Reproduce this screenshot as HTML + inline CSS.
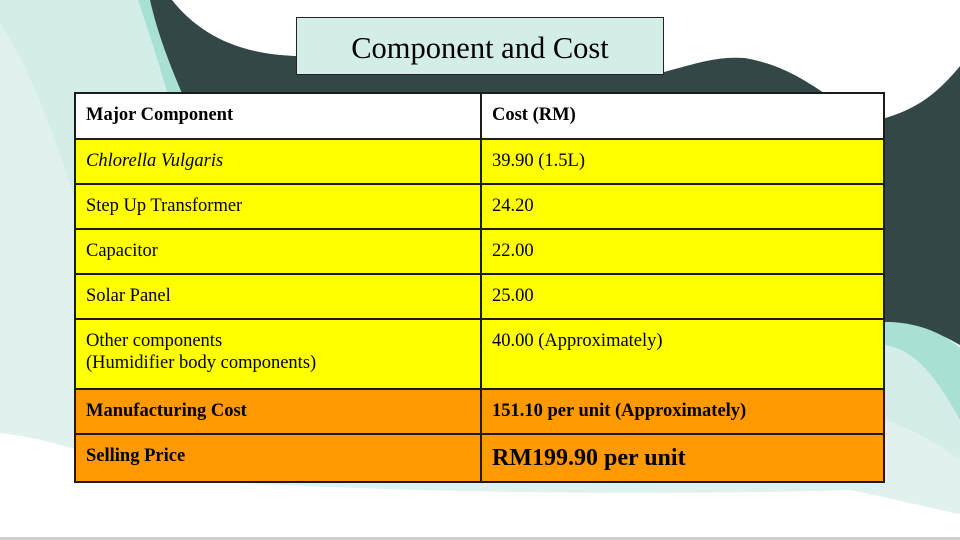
<!DOCTYPE html>
<html><head><meta charset="utf-8"><style>
body{margin:0;width:960px;height:540px;overflow:hidden;background:#fff;position:relative;font-family:"Liberation Serif",serif}
svg.bg{position:absolute;left:0;top:0}
.title{position:absolute;left:296px;top:17px;width:366px;height:56px;border:1px solid #222;background:#d3ede8;text-align:center;line-height:60px;font-size:30.5px;color:#000}
table{position:absolute;left:74px;top:92px;width:811px;border-collapse:collapse;font-size:18.5px;line-height:22px}
td{border:2px solid #1c1c1c;padding:0 10px;vertical-align:top;padding-top:10px;box-sizing:border-box}
td:first-child{width:406px}
.y td{background:#ffff00}
.o td{background:#ff9900}
.h td{background:#fff}
</style></head><body>
<svg class="bg" width="960" height="540" viewBox="0 0 960 540">
<rect width="960" height="540" fill="#e1f1ee"/>
<path d="M0 0 H145 L180 95 H75 V200 C50 120 25 60 0 23Z" fill="#d3ede8"/>
<path d="M138 0 H150 C160 35 172 65 186 95 H168 C158 60 148 30 138 0Z" fill="#a8e0d4"/>
<path d="M150 0 H172 C200 35 240 55 300 56 H664 L664 72 C700 62 720 56 745 58 C790 66 815 88 835 100 L885 118 C920 108 940 90 960 66 V345 C935 330 905 322 885 322 V98 H184 C170 65 158 35 150 0Z" fill="#324746"/>
<path d="M172 0 C200 35 240 55 300 56 H664 V72 C700 62 720 56 745 58 C790 66 815 88 835 100 L885 118 C920 108 940 90 960 66 V0Z" fill="#fff"/>
<path d="M885 322 C920 322 945 335 960 348 V540 H885Z" fill="#a8e0d4"/>
<path d="M885 345 C915 350 935 375 960 420 V540 H885Z" fill="#d3ede8"/>
<path d="M885 420 C915 430 940 445 960 460 V540 H885Z" fill="#e1f1ee"/>
<path d="M0 433 C50 438 110 460 160 478 C400 495 700 495 850 490 C900 500 930 508 960 514 V540 H0Z" fill="#fff"/>
<rect x="0" y="537" width="960" height="3" fill="#d0d0d0"/>
</svg>
<div class="title">Component and Cost</div>
<table>
<tr class="h" style="height:46px"><td><b>Major Component</b></td><td><b>Cost (RM)</b></td></tr>
<tr class="y" style="height:45px"><td><i>Chlorella Vulgaris</i></td><td>39.90 (1.5L)</td></tr>
<tr class="y" style="height:45px"><td>Step Up Transformer</td><td>24.20</td></tr>
<tr class="y" style="height:45px"><td>Capacitor</td><td>22.00</td></tr>
<tr class="y" style="height:45px"><td>Solar Panel</td><td>25.00</td></tr>
<tr class="y" style="height:70px"><td>Other components<br>(Humidifier body components)</td><td>40.00 (Approximately)</td></tr>
<tr class="o" style="height:45px"><td><b>Manufacturing Cost</b></td><td><b>151.10 per unit (Approximately)</b></td></tr>
<tr class="o" style="height:48px"><td><b>Selling Price</b></td><td style="padding-top:9px;font-size:24px;line-height:28px"><b>RM199.90 per unit</b></td></tr>
</table>
</body></html>
